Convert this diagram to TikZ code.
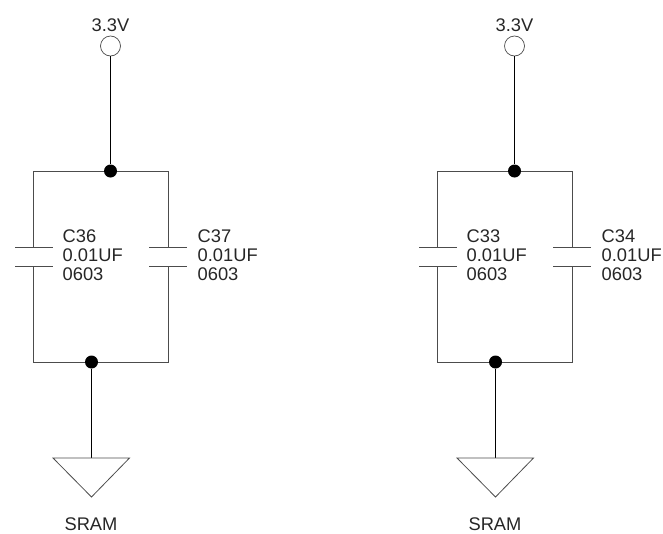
\documentclass[tikz,border=0pt]{standalone}
\usepackage{fontspec}
\setmainfont{Liberation Sans}
\definecolor{wiregray}{gray}{0.3}
\tikzset{
    wire/.style = {draw=wiregray, line width=0.8pt},
    feed/.style = {draw=black, line width=0.8pt},
    dotnode/.style = {shape=circle, fill=black, minimum size=13pt, inner sep=0pt},
    railnode/.style = {shape=circle, draw=wiregray, fill=white, minimum size=20pt, inner sep=0pt, line width=0.7pt},
    textnode/.style = {font=\fontsize{18.3}{18.3}\selectfont, inner sep=0pt, text=black!85}
}
\begin{document}
\begin{tikzpicture}[x=1pt, y=-1pt]
    \useasboundingbox (0,0) rectangle (663,533);
    \foreach \ox/\ca/\cb/\id in {0/C36/C37/a, 404/C33/C34/b} {
        \begin{scope}[xshift=\ox pt]
            % supply
            \node[railnode] (\id rail) at (110.5,46) {};
            \node[textnode, anchor=base] (\id volt) at (110.5,31) {3.3V};
            \coordinate (\id topl) at (33.5,171);
            \coordinate (\id topr) at (168,171);
            \coordinate (\id botl) at (33.5,362);
            \coordinate (\id botr) at (168,362);
            % plates
            \coordinate (\id la) at (33.5,247);
            \coordinate (\id lb) at (33.5,266);
            \coordinate (\id ra) at (168,247);
            \coordinate (\id rb) at (168,266);
            \coordinate (\id law) at (15,247);
            \coordinate (\id lae) at (52.5,247);
            \coordinate (\id lbw) at (15,266);
            \coordinate (\id lbe) at (52.5,266);
            \coordinate (\id raw) at (149,247);
            \coordinate (\id rae) at (187,247);
            \coordinate (\id rbw) at (149,266);
            \coordinate (\id rbe) at (187,266);
            % ground
            \coordinate (\id gnd) at (91.5,458);
            \coordinate (\id gndl) at (53,458);
            \coordinate (\id gndr) at (129.5,458);
            \coordinate (\id gndb) at (91.5,497);
            \draw[wire] (\id la) -- (\id topl) -- (\id topr) -- (\id ra);
            \draw[wire] (\id lb) -- (\id botl) -- (\id botr) -- (\id rb);
            \draw[wire] (\id law) -- (\id lae);
            \draw[wire] (\id lbw) -- (\id lbe);
            \draw[wire] (\id raw) -- (\id rae);
            \draw[wire] (\id rbw) -- (\id rbe);
            \node[dotnode] (\id top) at (110.5,171) {};
            \node[dotnode] (\id bot) at (91.5,362) {};
            \draw[feed] (\id rail) -- (\id top);
            \draw[feed] (\id bot) -- (\id gnd);
            \draw[wire] (\id gndl) -- (\id gndr) -- (\id gndb) -- cycle;
            \node[textnode, anchor=base] (\id sram) at (91,530.5) {SRAM};
            % labels
            \node[textnode, anchor=base west] (\id lname) at (62.5,242) {\ca};
            \node[textnode, anchor=base west] (\id lval) at (62.5,261.5) {0.01UF};
            \node[textnode, anchor=base west] (\id lsize) at (62.5,280.5) {0603};
            \node[textnode, anchor=base west] (\id rname) at (197.5,242) {\cb};
            \node[textnode, anchor=base west] (\id rval) at (197.5,261.5) {0.01UF};
            \node[textnode, anchor=base west] (\id rsize) at (197.5,280.5) {0603};
        \end{scope}
    }
\end{tikzpicture}
\end{document}
